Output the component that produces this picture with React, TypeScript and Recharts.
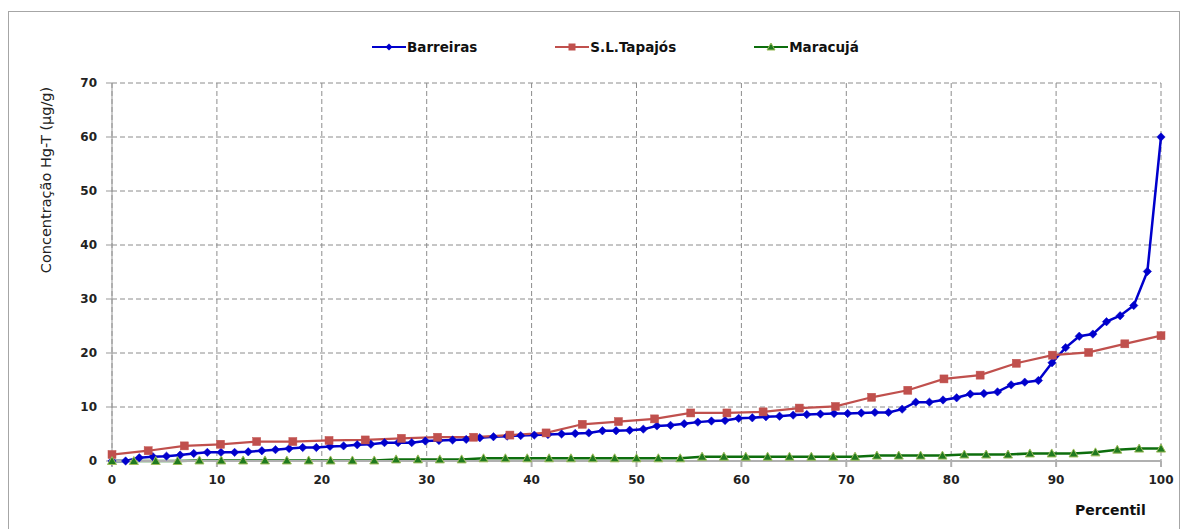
import { LineChart, Line, XAxis, YAxis, CartesianGrid } from 'recharts';

// Hg-T concentration (µg/g) sorted ascending, one array per site
const barreirasValues = [
  0.0, 0.0, 0.6, 0.8, 0.9, 1.1, 1.4, 1.6, 1.6, 1.6,
  1.7, 1.9, 2.1, 2.3, 2.5, 2.5, 2.7, 2.8, 3.0, 3.1,
  3.4, 3.4, 3.4, 3.7, 3.8, 3.9, 4.0, 4.3, 4.5, 4.6,
  4.7, 4.8, 4.9, 5.0, 5.1, 5.2, 5.6, 5.6, 5.7, 5.9,
  6.5, 6.6, 6.9, 7.2, 7.4, 7.5, 7.9, 8.0, 8.2, 8.3,
  8.5, 8.6, 8.7, 8.8, 8.8, 8.9, 9.0, 9.0, 9.6, 10.9,
  10.9, 11.3, 11.7, 12.4, 12.5, 12.8, 14.1, 14.6, 14.9, 18.2,
  21.0, 23.1, 23.5, 25.8, 26.9, 28.8, 35.1, 60.0,
];
const tapajosValues = [
  1.2, 1.9, 2.8, 3.1, 3.6, 3.6, 3.8, 3.9, 4.2, 4.4,
  4.4, 4.8, 5.2, 6.8, 7.3, 7.8, 8.9, 8.9, 9.1, 9.8,
  10.1, 11.8, 13.1, 15.2, 15.9, 18.1, 19.6, 20.1, 21.7, 23.2,
];
const maracujaValues = [
  0.0, 0.0, 0.0, 0.0, 0.1, 0.1, 0.1, 0.1, 0.1, 0.1,
  0.1, 0.1, 0.1, 0.3, 0.3, 0.3, 0.3, 0.5, 0.5, 0.5,
  0.5, 0.5, 0.5, 0.5, 0.5, 0.5, 0.5, 0.8, 0.8, 0.8,
  0.8, 0.8, 0.8, 0.8, 0.8, 1.0, 1.0, 1.0, 1.0, 1.2,
  1.2, 1.2, 1.4, 1.4, 1.4, 1.6, 2.1, 2.3, 2.3,
];
const xTicks = [0, 10, 20, 30, 40, 50, 60, 70, 80, 90, 100];
const yTicks = [0, 10, 20, 30, 40, 50, 60, 70];

// percentile rank of each sorted sample
const toPercentil = (vals: number[]) =>
  vals.map((v, i) => ({ p: (i / (vals.length - 1)) * 100, v }));

const barreiras = toPercentil(barreirasValues);
const tapajos = toPercentil(tapajosValues);
const maracuja = toPercentil(maracujaValues);

const BLUE = '#0000cc';
const RED = '#c0504d';
const GREEN = '#0d6e0d';

const Diamond = (props: any) => {
  const { cx, cy, index } = props;
  if (cx == null || cy == null) return null;
  const r = 4.2;
  return <path key={`b-${index}`} d={`M${cx},${cy - r}L${cx + r},${cy}L${cx},${cy + r}L${cx - r},${cy}Z`} fill={BLUE} stroke={BLUE} strokeWidth={0.5} />;
};
const Square = (props: any) => {
  const { cx, cy, index } = props;
  if (cx == null || cy == null) return null;
  return <rect key={`t-${index}`} x={cx - 4} y={cy - 4} width={8} height={8} fill={RED} stroke={RED} strokeWidth={0.5} />;
};
const Triangle = (props: any) => {
  const { cx, cy, index } = props;
  if (cx == null || cy == null) return null;
  return <path key={`m-${index}`} d={`M${cx},${cy - 4.5}L${cx + 4.5},${cy + 3.5}L${cx - 4.5},${cy + 3.5}Z`} fill="#1f7a1f" stroke="#9bbb59" strokeWidth={1} />;
};

const font = '"DejaVu Sans", sans-serif';

function LegendItem({ color, label, marker }: { color: string; label: string; marker: 'd' | 's' | 't' }) {
  return (
    <div style={{ display: 'flex', alignItems: 'center' }}>
      <svg width={34} height={12}>
        <line x1={0} y1={6} x2={34} y2={6} stroke={color} strokeWidth={2} />
        {marker === 'd' && <path d="M17,2.5L20.5,6L17,9.5L13.5,6Z" fill={color} />}
        {marker === 's' && <rect x={13.5} y={2.5} width={7} height={7} fill={color} />}
        {marker === 't' && <path d="M17,2L21,9L13,9Z" fill="#1f7a1f" stroke="#9bbb59" strokeWidth={1} />}
      </svg>
      <span style={{ fontFamily: font, fontWeight: 700, fontSize: 13.5, color: '#111', marginLeft: 1 }}>{label}</span>
    </div>
  );
}

export default function App() {
  const tickStyle = { fontFamily: font, fontWeight: 700, fontSize: 12, fill: '#222' };
  return (
    <div style={{ position: 'relative', width: 1181, height: 521 }}>
      <div style={{ position: 'absolute', left: 0, top: 3, width: 1172, height: 540, border: '1px solid #a6a6a6', boxSizing: 'border-box' }} />
      <div style={{ position: 'absolute', left: 364, top: 31, display: 'flex', gap: 78 }}>
        <LegendItem color={BLUE} label="Barreiras" marker="d" />
        <LegendItem color={RED} label="S.L.Tapajós" marker="s" />
        <LegendItem color={GREEN} label="Maracujá" marker="t" />
      </div>
      <div style={{ position: 'absolute', left: 38, top: 172, width: 0, height: 0 }}>
        <div
          style={{
            position: 'absolute', transform: 'translate(-50%, -50%) rotate(-90deg)', whiteSpace: 'nowrap',
            fontFamily: font, fontSize: 14.5, color: '#222',
          }}
        >
          Concentração Hg-T (µg/g)
        </div>
      </div>
      <div style={{ position: 'absolute', left: 1067, top: 494, fontFamily: font, fontWeight: 700, fontSize: 14, color: '#111' }}>
        Percentil
      </div>
      <div style={{ position: 'absolute', left: 0, top: 0 }}>
        <LineChart width={1181} height={521} margin={{ top: 75, right: 28, bottom: 0, left: 0 }}>
          <CartesianGrid stroke="#8c8c8c" strokeDasharray="5 3" />
          <XAxis
            type="number"
            dataKey="p"
            domain={[0, 100]}
            ticks={xTicks}
            interval={0}
            height={68}
            tick={tickStyle}
            tickSize={6}
            tickMargin={8}
            axisLine={{ stroke: '#b0b0b0', strokeWidth: 2 }}
            tickLine={{ stroke: '#b0b0b0', strokeWidth: 2 }}
          />
          <YAxis
            type="number"
            domain={[0, 70]}
            ticks={yTicks}
            interval={0}
            width={104}
            tick={tickStyle}
            tickSize={6}
            tickMargin={9}
            axisLine={{ stroke: '#999' }}
            tickLine={{ stroke: '#999' }}
          />
          <Line data={barreiras} dataKey="v" type="linear" stroke={BLUE} strokeWidth={2.5} dot={Diamond} activeDot={false} isAnimationActive={false} />
          <Line data={tapajos} dataKey="v" type="linear" stroke={RED} strokeWidth={2.25} dot={Square} activeDot={false} isAnimationActive={false} />
          <Line data={maracuja} dataKey="v" type="linear" stroke={GREEN} strokeWidth={2.5} dot={Triangle} activeDot={false} isAnimationActive={false} />
        </LineChart>
      </div>
    </div>
  );
}
